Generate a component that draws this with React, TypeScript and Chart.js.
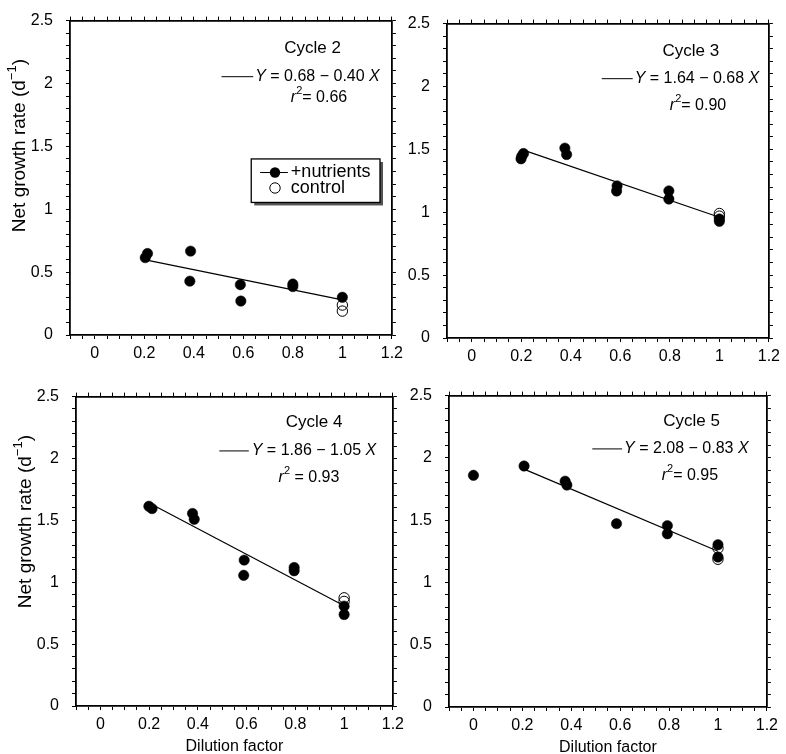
import React, { useEffect, useRef } from "react";
import { Chart, registerables } from "chart.js";
Chart.register(...registerables);

const FONT = '"Liberation Sans", Arial, Helvetica, sans-serif';
Chart.defaults.font.family = FONT;
Chart.defaults.color = "#000";

// ---------- data ----------
const xTickLabels = ["0", "0.2", "0.4", "0.6", "0.8", "1", "1.2"];
const yTickLabels = ["0", "0.5", "1", "1.5", "2", "2.5"];

// Cycle 2
const c2NutrientsX = [0.204, 0.213, 0.387, 0.384, 0.588, 0.59, 0.8, 0.8, 1.0];
const c2NutrientsY = [0.615, 0.648, 0.667, 0.428, 0.4, 0.27, 0.405, 0.385, 0.3];
const c2ControlX = [1.0, 1.0];
const c2ControlY = [0.238, 0.19];
const c2FitX = [0.2, 1.0];
const c2FitY = [0.6, 0.28];

// Cycle 3
const c3NutrientsX = [0.199, 0.202, 0.209, 0.376, 0.383, 0.585, 0.587, 0.796, 0.796, 1.0, 1.0];
const c3NutrientsY = [1.425, 1.446, 1.467, 1.51, 1.459, 1.169, 1.21, 1.17, 1.105, 0.928, 0.946];
const c3ControlX = [1.0, 1.0];
const c3ControlY = [0.99, 0.969];
const c3FitX = [0.2, 1.0];
const c3FitY = [1.5, 0.96];

// Cycle 4
const c4NutrientsX = [0.199, 0.212, 0.378, 0.385, 0.59, 0.588, 0.795, 0.795, 1.0, 1.0];
const c4NutrientsY = [1.614, 1.595, 1.556, 1.509, 1.179, 1.056, 1.119, 1.093, 0.807, 0.739];
const c4ControlX = [1.0, 1.0];
const c4ControlY = [0.874, 0.845];
const c4FitX = [0.2, 1.0];
const c4FitY = [1.64, 0.81];

// Cycle 5
const c5NutrientsX = [0.0, 0.207, 0.375, 0.382, 0.585, 0.793, 0.793, 1.0, 1.0];
const c5NutrientsY = [1.86, 1.935, 1.813, 1.782, 1.472, 1.456, 1.391, 1.303, 1.204];
const c5ControlX = [1.0, 1.0];
const c5ControlY = [1.274, 1.186];
const c5FitX = [0.207, 1.0];
const c5FitY = [1.91, 1.25];

const cycleTitles = ["Cycle 2", "Cycle 3", "Cycle 4", "Cycle 5"];
const fitIntercepts = ["0.68", "1.64", "1.86", "2.08"];
const fitSlopes = ["0.40", "0.68", "1.05", "0.83"];
const rSquared = ["0.66", "0.90", "0.93", "0.95"];
const seriesNames = ["+nutrients", "control"];
const xAxisTitle = "Dilution factor";
const yAxisTitle = "Net growth rate (d";
const yAxisTitleSup = "\u22121";

// ---------- layout (page pixels for plot frames, data units for annotations) ----------
type Area = { left: number; top: number; right: number; bottom: number };
type Ann = {
  cycle: [number, number];
  eqLine: [number, number, number];
  eqTextX: number;
  r2: [number, number];
  r2Space: boolean;
};
type Spec = {
  idx: number;
  area: Area;
  nutX: number[]; nutY: number[];
  ctrlX: number[]; ctrlY: number[];
  fitX: number[]; fitY: number[];
  ann: Ann;
  legend: boolean;
  yTitle: boolean;
  xTitle: boolean;
};

const specs: Spec[] = [
  {
    idx: 0,
    area: { left: 70, top: 10, right: 396, bottom: 335 },
    nutX: c2NutrientsX, nutY: c2NutrientsY, ctrlX: c2ControlX, ctrlY: c2ControlY, fitX: c2FitX, fitY: c2FitY,
    ann: { cycle: [0.88, 2.277], eqLine: [0.512, 0.64, 2.054], eqTextX: 0.648, r2: [0.792, 1.885], r2Space: false },
    legend: true, yTitle: true, xTitle: false,
  },
  {
    idx: 1,
    area: { left: 447, top: 13, right: 773, bottom: 338 },
    nutX: c3NutrientsX, nutY: c3NutrientsY, ctrlX: c3ControlX, ctrlY: c3ControlY, fitX: c3FitX, fitY: c3FitY,
    ann: { cycle: [0.885, 2.277], eqLine: [0.525, 0.65, 2.062], eqTextX: 0.658, r2: [0.8, 1.846], r2Space: false },
    legend: false, yTitle: false, xTitle: false,
  },
  {
    idx: 2,
    area: { left: 76, top: 386, right: 397, bottom: 706 },
    nutX: c4NutrientsX, nutY: c4NutrientsY, ctrlX: c4ControlX, ctrlY: c4ControlY, fitX: c4FitX, fitY: c4FitY,
    ann: { cycle: [0.877, 2.295], eqLine: [0.488, 0.609, 2.061], eqTextX: 0.621, r2: [0.731, 1.842], r2Space: true },
    legend: false, yTitle: true, xTitle: true,
  },
  {
    idx: 3,
    area: { left: 449, top: 385, right: 771, bottom: 707 },
    nutX: c5NutrientsX, nutY: c5NutrientsY, ctrlX: c5ControlX, ctrlY: c5ControlY, fitX: c5FitX, fitY: c5FitY,
    ann: { cycle: [0.892, 2.29], eqLine: [0.486, 0.608, 2.072], eqTextX: 0.616, r2: [0.77, 1.855], r2Space: false },
    legend: false, yTitle: false, xTitle: true,
  },
];

const LEGEND_BOX = { x0: 0.632, x1: 1.152, y0: 1.4, y1: 1.054, row1: 1.292, row2: 1.169, lineX0: 0.668, lineX1: 0.78, markX: 0.728, textX: 0.792 };
const MARK_R = 5.2;

type Part = { t: string; it?: boolean; sup?: boolean };

function drawParts(ctx: CanvasRenderingContext2D, parts: Part[], x: number, y: number, size: number, align: "left" | "center") {
  const supSize = Math.round(size * 0.66);
  const fontFor = (p: Part) => `${p.it ? "italic " : ""}${p.sup ? supSize : size}px ${FONT}`;
  let total = 0;
  const widths = parts.map((p) => {
    ctx.font = fontFor(p);
    const w = ctx.measureText(p.t).width;
    total += w;
    return w;
  });
  let cx = align === "center" ? x - total / 2 : x;
  ctx.textAlign = "left";
  ctx.textBaseline = "middle";
  parts.forEach((p, i) => {
    ctx.font = fontFor(p);
    ctx.fillText(p.t, cx, p.sup ? y - size * 0.42 : y);
    cx += widths[i];
  });
}

const LW = 58, RW = 6, TH = 6, BH = 40;
const OL = 70, OR = 12, OT = 12, OB = 48;

function Panel({ spec }: { spec: Spec }) {
  const ref = useRef<HTMLCanvasElement>(null);
  const w = spec.area.right - spec.area.left + OL + OR;
  const h = spec.area.bottom - spec.area.top + OT + OB;

  useEffect(() => {
    if (!ref.current) return;
    const i = spec.idx;
    const xLabel = (v: number) => {
      const r = Math.round(v * 100);
      if (r >= 0 && r % 20 === 0) return xTickLabels[r / 20] ?? "";
      return "";
    };
    const yLabel = (v: number) => {
      const r = Math.round(v * 100);
      if (r >= 0 && r % 50 === 0) return yTickLabels[r / 50] ?? "";
      return "";
    };
    const common = {
      type: "linear" as const,
      border: { display: true, color: "#000", width: 1.8 },
      grid: { drawOnChartArea: false, drawTicks: true, tickLength: 4, color: "#000", tickColor: "#000", tickWidth: 1 },
    };
    const xRange = { min: -0.1, max: 1.2 };
    const yRange = { min: 0, max: 2.5 };

    const annPlugin = {
      id: "ann" + i,
      afterDraw(chart: any) {
        const ctx: CanvasRenderingContext2D = chart.ctx;
        const xs = chart.scales.x, ys = chart.scales.y;
        const px = (v: number) => xs.getPixelForValue(v);
        const py = (v: number) => ys.getPixelForValue(v);
        const a = spec.ann;
        ctx.save();
        ctx.fillStyle = "#000";
        ctx.strokeStyle = "#000";
        drawParts(ctx, [{ t: cycleTitles[i] }], px(a.cycle[0]), py(a.cycle[1]), 17, "center");
        ctx.lineWidth = 1;
        ctx.beginPath();
        ctx.moveTo(px(a.eqLine[0]), py(a.eqLine[2]));
        ctx.lineTo(px(a.eqLine[1]), py(a.eqLine[2]));
        ctx.stroke();
        drawParts(
          ctx,
          [{ t: "Y", it: true }, { t: ` = ${fitIntercepts[i]} \u2212 ${fitSlopes[i]} ` }, { t: "X", it: true }],
          px(a.eqTextX), py(a.eqLine[2]), 16, "left"
        );
        drawParts(
          ctx,
          [{ t: "r", it: true }, { t: "2", sup: true }, { t: `${a.r2Space ? " " : ""}= ${rSquared[i]}` }],
          px(a.r2[0]), py(a.r2[1]), 16, "left"
        );
        if (spec.legend) {
          const L = LEGEND_BOX;
          const bx = px(L.x0), by = py(L.y0), bw = px(L.x1) - px(L.x0), bh = py(L.y1) - py(L.y0);
          ctx.fillStyle = "#555";
          ctx.fillRect(bx + 3, by + 3, bw, bh);
          ctx.fillStyle = "#fff";
          ctx.fillRect(bx, by, bw, bh);
          ctx.lineWidth = 1.3;
          ctx.strokeRect(bx, by, bw, bh);
          ctx.fillStyle = "#000";
          ctx.lineWidth = 1;
          ctx.beginPath();
          ctx.moveTo(px(L.lineX0), py(L.row1));
          ctx.lineTo(px(L.lineX1), py(L.row1));
          ctx.stroke();
          ctx.beginPath();
          ctx.arc(px(L.markX), py(L.row1), MARK_R, 0, Math.PI * 2);
          ctx.fill();
          ctx.beginPath();
          ctx.arc(px(L.markX), py(L.row2), MARK_R, 0, Math.PI * 2);
          ctx.stroke();
          drawParts(ctx, [{ t: seriesNames[0] }], px(L.textX), py(L.row1), 18, "left");
          drawParts(ctx, [{ t: seriesNames[1] }], px(L.textX), py(L.row2), 18, "left");
        }
        const ca = chart.chartArea;
        if (spec.yTitle) {
          ctx.save();
          ctx.translate(ca.left - 50, ca.top + 125);
          ctx.rotate(-Math.PI / 2);
          drawParts(ctx, [{ t: yAxisTitle }, { t: yAxisTitleSup, sup: true }, { t: ")" }], 0, 0, 19, "center");
          ctx.restore();
        }
        if (spec.xTitle) {
          drawParts(ctx, [{ t: xAxisTitle }], (ca.left + ca.right) / 2, ca.bottom + 41, 16, "center");
        }
        ctx.restore();
      },
    };

    const chart = new Chart(ref.current, {
      type: "scatter",
      data: {
        datasets: [
          {
            label: seriesNames[0],
            data: spec.nutX.map((x, k) => ({ x, y: spec.nutY[k] })),
            pointRadius: MARK_R,
            pointBackgroundColor: "#000",
            pointBorderColor: "#000",
            pointBorderWidth: 0.5,
            order: 0,
          },
          {
            label: seriesNames[1],
            data: spec.ctrlX.map((x, k) => ({ x, y: spec.ctrlY[k] })),
            pointRadius: MARK_R,
            pointBackgroundColor: "rgba(0,0,0,0)",
            pointBorderColor: "#000",
            pointBorderWidth: 1,
            order: 1,
          },
          {
            label: "fit",
            data: spec.fitX.map((x, k) => ({ x, y: spec.fitY[k] })),
            showLine: true,
            pointRadius: 0,
            borderColor: "#000",
            borderWidth: 1.2,
            order: 2,
          } as any,
        ],
      },
      options: {
        responsive: false,
        animation: false,
        devicePixelRatio: 1,
        layout: { padding: { left: OL - LW, right: OR - RW, top: OT - TH, bottom: OB - BH } },
        plugins: { legend: { display: false }, tooltip: { enabled: false } },
        scales: {
          x: {
            ...common, ...xRange, position: "bottom",
            afterFit: (s: any) => { s.height = BH; },
            ticks: { stepSize: 0.05, autoSkip: false, maxRotation: 0, minRotation: 0, padding: 5, color: "#000", font: { family: FONT, size: 16 }, callback: (v: any) => xLabel(Number(v)) },
          },
          x2: {
            ...common, ...xRange, position: "top",
            afterFit: (s: any) => { s.height = TH; },
            ticks: { stepSize: 0.05, autoSkip: false, display: false },
          },
          y: {
            ...common, ...yRange, position: "left",
            afterFit: (s: any) => { s.width = LW; },
            ticks: { stepSize: 0.1, autoSkip: false, padding: 13, color: "#000", font: { family: FONT, size: 16 }, callback: (v: any) => yLabel(Number(v)) },
          },
          y2: {
            ...common, ...yRange, position: "right",
            afterFit: (s: any) => { s.width = RW; },
            ticks: { stepSize: 0.1, autoSkip: false, display: false },
          },
        } as any,
      },
      plugins: [annPlugin],
    });
    return () => chart.destroy();
  }, []);

  return (
    <canvas
      ref={ref}
      width={w}
      height={h}
      style={{ position: "absolute", left: spec.area.left - OL, top: spec.area.top - OT, width: w, height: h }}
    />
  );
}

export default function App() {
  return (
    <div style={{ position: "absolute", left: 0, top: 0, width: 786, height: 754, overflow: "hidden", background: "#fff" }}>
      {specs.map((s) => (
        <Panel key={s.idx} spec={s} />
      ))}
    </div>
  );
}
